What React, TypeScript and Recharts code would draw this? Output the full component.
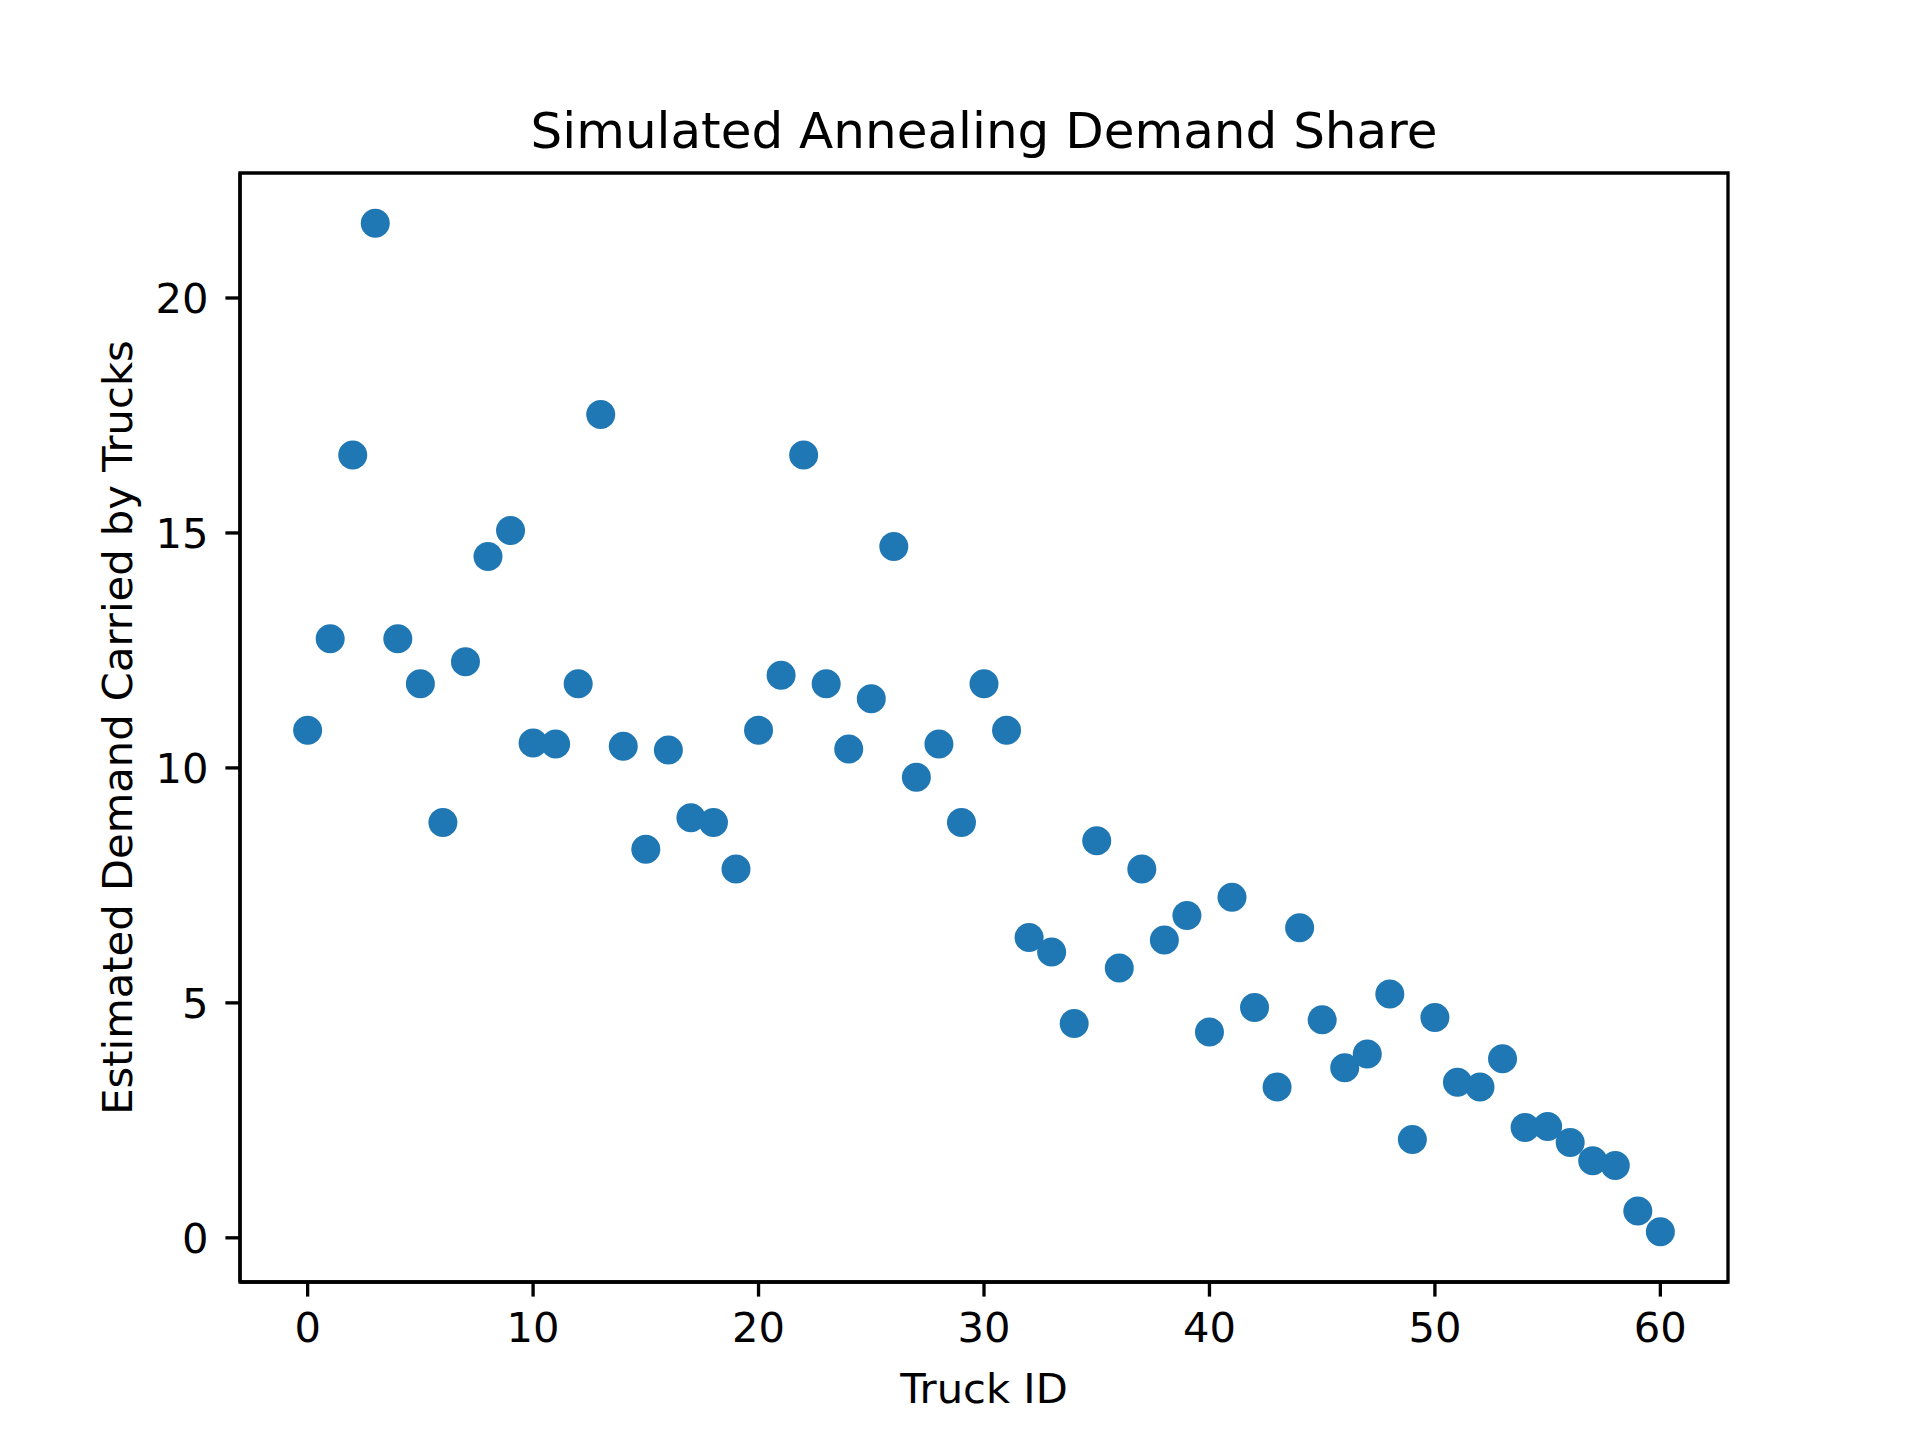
import React from 'react';
import { ScatterChart, Scatter, XAxis, YAxis, Label, ReferenceArea } from 'recharts';

// Truck IDs (x) and estimated demand carried (y)
const truckIds = [
  0, 1, 2, 3, 4, 5, 6, 7, 8, 9,
  10, 11, 12, 13, 14, 15, 16, 17, 18, 19,
  20, 21, 22, 23, 24, 25, 26, 27, 28, 29,
  30, 31, 32, 33, 34, 35, 36, 37, 38, 39,
  40, 41, 42, 43, 44, 45, 46, 47, 48, 49,
  50, 51, 52, 53, 54, 55, 56, 57, 58, 59, 60,
];

const demandShare = [
  10.8, 12.75, 16.66, 21.59, 12.75, 11.79, 8.84, 12.26, 14.5, 15.05,
  10.53, 10.51, 11.79, 17.52, 10.46, 8.27, 10.38, 8.94, 8.84, 7.85,
  10.8, 11.97, 16.66, 11.79, 10.4, 11.47, 14.71, 9.8, 10.51, 8.84,
  11.79, 10.8, 6.39, 6.08, 4.56, 8.45, 5.74, 7.85, 6.34, 6.86,
  4.38, 7.25, 4.9, 3.21, 6.6, 4.64, 3.62, 3.91, 5.19, 2.09,
  4.69, 3.31, 3.21, 3.81, 2.35, 2.37, 2.03, 1.64, 1.54, 0.57, 0.13,
];

const xTicks = [0, 10, 20, 30, 40, 50, 60];
const yTicks = [0, 5, 10, 15, 20];

const TITLE = 'Simulated Annealing Demand Share';
const X_LABEL = 'Truck ID';
const Y_LABEL = 'Estimated Demand Carried by Trucks';

// matplotlib-ish styling at 300 dpi
const FONT = 'DejaVu Sans';
const TICK_FONT = 41.67;
const LINE_W = 3.33;
const MARKER_COLOR = '#1f77b4';

const X_DOMAIN: [number, number] = [-3, 63];
const Y_DOMAIN: [number, number] = [-0.94, 22.66];

const data = truckIds.map((id, i) => ({ id, demand: demandShare[i] }));

const Dot = (props: any) => (
  <circle cx={props.cx} cy={props.cy} r={14.5} fill={MARKER_COLOR} />
);

export default function App() {
  const tickStyle = { fill: '#000', fontSize: TICK_FONT, fontFamily: FONT };
  const lineStyle = { stroke: '#000', strokeWidth: LINE_W };

  return (
    <div style={{ position: 'absolute', left: 0, top: 0, width: 1920, height: 1440, background: '#fff' }}>
      <ScatterChart width={1920} height={1440} margin={{ top: 173, right: 192, bottom: 0, left: 0 }}>
        <XAxis
          dataKey="id"
          type="number"
          domain={X_DOMAIN}
          ticks={xTicks}
          allowDataOverflow
          height={158}
          tick={tickStyle}
          tickLine={lineStyle}
          axisLine={lineStyle}
          tickSize={14.6}
          tickMargin={16}
        >
          <Label
            value={X_LABEL}
            position="insideBottom"
            offset={37}
            style={{ fill: '#000', fontSize: TICK_FONT, fontFamily: FONT }}
          />
        </XAxis>
        <YAxis
          dataKey="demand"
          type="number"
          domain={Y_DOMAIN}
          ticks={yTicks}
          allowDataOverflow
          width={240}
          tick={tickStyle}
          tickLine={lineStyle}
          axisLine={lineStyle}
          tickSize={14.6}
          tickMargin={17}
          label={{
            content: (p: any) => {
              const vb = p.viewBox || { x: 0, y: 173, width: 240, height: 1109 };
              const cx = vb.x + 132;
              const cy = vb.y + vb.height / 2;
              return (
                <text
                  x={cx}
                  y={cy}
                  transform={`rotate(-90, ${cx}, ${cy})`}
                  textAnchor="middle"
                  fill="#000"
                  fontSize={TICK_FONT}
                  fontFamily={FONT}
                >
                  {Y_LABEL}
                </text>
              );
            },
          }}
        />
        {/* axes frame (matplotlib spines) + title */}
        <ReferenceArea
          x1={X_DOMAIN[0]}
          x2={X_DOMAIN[1]}
          y1={Y_DOMAIN[0]}
          y2={Y_DOMAIN[1]}
          fill="none"
          fillOpacity={0}
          stroke="#000"
          strokeWidth={LINE_W}
          ifOverflow="visible"
        >
          <Label
            value={TITLE}
            position="top"
            offset={25}
            style={{ fill: '#000', fontSize: 50, fontFamily: FONT }}
          />
        </ReferenceArea>
        <Scatter data={data} fill={MARKER_COLOR} shape={Dot} isAnimationActive={false} />
      </ScatterChart>
    </div>
  );
}
